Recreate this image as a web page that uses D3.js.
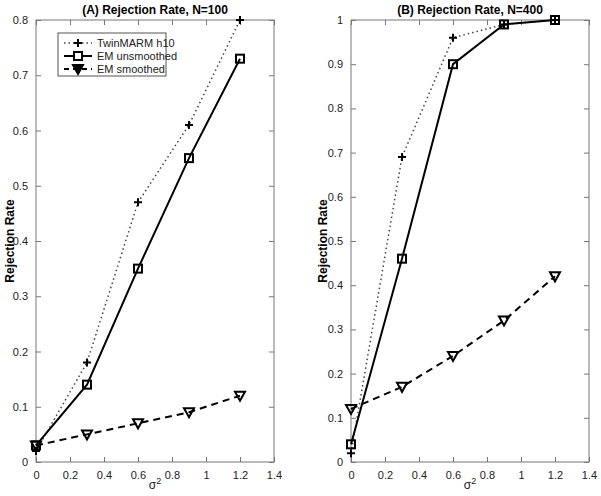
<!DOCTYPE html>
<html>
<head>
<meta charset="utf-8">
<script src="https://cdn.jsdelivr.net/npm/d3@7"></script>
<style>
  body { margin: 0; background: #fff; }
  svg { display: block; font-family: "Liberation Sans", Arial, sans-serif; }
</style>
</head>
<body>
<svg id="chart" width="601" height="496"></svg>
<script>
// sigma^2 values shared by both panels
var sigma2 = [0, 0.3, 0.6, 0.9, 1.2];

// panel A, N=100
var twinA = [0.02, 0.18, 0.47, 0.61, 0.80];
var emUnsA = [0.03, 0.14, 0.35, 0.55, 0.73];
var emSmA = [0.03, 0.05, 0.07, 0.09, 0.12];

// panel B, N=400
var twinB = [0.02, 0.69, 0.96, 0.99, 1.00];
var emUnsB = [0.04, 0.46, 0.90, 0.99, 1.00];
var emSmB = [0.12, 0.17, 0.24, 0.32, 0.42];

var xTicks = [0, 0.2, 0.4, 0.6, 0.8, 1, 1.2, 1.4];
var yTicksA = [0, 0.1, 0.2, 0.3, 0.4, 0.5, 0.6, 0.7, 0.8];
var yTicksB = [0, 0.1, 0.2, 0.3, 0.4, 0.5, 0.6, 0.7, 0.8, 0.9, 1];

var seriesNames = ['TwinMARM h10', 'EM unsmoothed', 'EM smoothed'];

var svg = d3.select('#chart');

var styles = [
	{ dash: '1.5,3', width: 1.5, color: '#444', marker: 'plus' },
	{ dash: null, width: 2, color: '#000', marker: 'square' },
	{ dash: '7,5', width: 2, color: '#000', marker: 'tri' }
];

function drawMarker(g, type, x, y, filled) {
	if (type == 'plus') {
		g.append('path')
			.attr('d', 'M' + (x - 4) + ',' + y + 'H' + (x + 4) + 'M' + x + ',' + (y - 4) + 'V' + (y + 4))
			.attr('stroke', '#000').attr('stroke-width', 2).attr('fill', 'none');
	} else if (type == 'square') {
		g.append('rect')
			.attr('x', x - 4).attr('y', y - 4).attr('width', 8).attr('height', 8)
			.attr('stroke', '#000').attr('stroke-width', 2).attr('fill', filled ? '#fff' : 'none');
	} else {
		g.append('path')
			.attr('d', 'M' + (x - 5) + ',' + (y - 4) + 'L' + (x + 5) + ',' + (y - 4) + 'L' + x + ',' + (y + 5) + 'Z')
			.attr('stroke', '#000').attr('stroke-width', 2).attr('fill', filled ? '#000' : 'none')
			.attr('stroke-linejoin', 'miter');
	}
}

function panel(opts) {
	var x = d3.scaleLinear().domain([0, 1.4]).range([opts.left, opts.right]);
	var y = d3.scaleLinear().domain([0, opts.yMax]).range([462, 20]);
	var g = svg.append('g');

	// box
	g.append('rect')
		.attr('x', opts.left).attr('y', 20)
		.attr('width', opts.right - opts.left).attr('height', 442)
		.attr('fill', 'none').attr('stroke', '#777').attr('stroke-width', 1);

	// axes with inward ticks, on all four sides
	var axB = g.append('g').attr('transform', 'translate(0,462)')
		.call(d3.axisBottom(x).tickValues(xTicks).tickSizeInner(-5).tickSizeOuter(0).tickPadding(9)
			.tickFormat(function(d) { return d3.format('')(+d.toFixed(1)); }));
	var axT = g.append('g').attr('transform', 'translate(0,20)')
		.call(d3.axisTop(x).tickValues(xTicks).tickSizeInner(-5).tickSizeOuter(0).tickFormat(''));
	var axL = g.append('g').attr('transform', 'translate(' + opts.left + ',0)')
		.call(d3.axisLeft(y).tickValues(opts.yTicks).tickSizeInner(-5).tickSizeOuter(0).tickPadding(8)
			.tickFormat(function(d) { return d3.format('')(+d.toFixed(1)); }));
	var axR = g.append('g').attr('transform', 'translate(' + opts.right + ',0)')
		.call(d3.axisRight(y).tickValues(opts.yTicks).tickSizeInner(-5).tickSizeOuter(0).tickFormat(''));
	[axB, axT, axL, axR].forEach(function(a) {
		a.select('.domain').remove();
		a.selectAll('line').attr('stroke', '#777');
		a.selectAll('text').attr('fill', '#222').attr('font-size', 11);
	});

	// title
	g.append('text')
		.attr('x', (opts.left + opts.right) / 2).attr('y', 14)
		.attr('text-anchor', 'middle').attr('font-size', 12).attr('font-weight', 'bold')
		.text(opts.title);

	// y label
	g.append('text')
		.attr('transform', 'translate(' + opts.yLabelX + ',241) rotate(-90)')
		.attr('text-anchor', 'middle').attr('font-size', 12).attr('font-weight', 'bold')
		.text('Rejection Rate');

	// x label
	var xl = g.append('text')
		.attr('x', (opts.left + opts.right) / 2).attr('y', 489)
		.attr('text-anchor', 'middle').attr('font-size', 12).attr('fill', '#222');
	xl.append('tspan').text('σ');
	xl.append('tspan').attr('dy', -5).attr('font-size', 9).text('2');

	var line = d3.line()
		.x(function(d) { return x(d[0]); })
		.y(function(d) { return y(d[1]); });

	opts.series.forEach(function(vals, k) {
		var st = styles[k];
		var pts = sigma2.map(function(s, i) { return [s, vals[i]]; });
		g.append('path')
			.datum(pts)
			.attr('d', line)
			.attr('fill', 'none')
			.attr('stroke', st.color)
			.attr('stroke-width', st.width)
			.attr('stroke-dasharray', st.dash);
		pts.forEach(function(p) {
			drawMarker(g, st.marker, x(p[0]), y(p[1]), false);
		});
	});

	if (opts.legend) {
		var lg = g.append('g');
		lg.append('rect')
			.attr('x', 58).attr('y', 33).attr('width', 108).attr('height', 43)
			.attr('fill', '#fff').attr('stroke', '#555').attr('stroke-width', 1);
		seriesNames.forEach(function(name, k) {
			var st = styles[k];
			var yy = 43 + k * 13;
			lg.append('line')
				.attr('x1', 64).attr('x2', 92).attr('y1', yy).attr('y2', yy)
				.attr('stroke', st.color).attr('stroke-width', st.width)
				.attr('stroke-dasharray', k == 2 ? '5,4' : st.dash);
			drawMarker(lg, st.marker, 78, yy, true);
			lg.append('text')
				.attr('x', 97).attr('y', yy + 4)
				.attr('font-size', 11).attr('fill', '#222')
				.text(name);
		});
	}
}

panel({
	left: 36, right: 274, yMax: 0.8, yTicks: yTicksA,
	title: '(A) Rejection Rate, N=100', yLabelX: 14,
	series: [twinA, emUnsA, emSmA], legend: true
});

panel({
	left: 351, right: 589, yMax: 1, yTicks: yTicksB,
	title: '(B) Rejection Rate, N=400', yLabelX: 327,
	series: [twinB, emUnsB, emSmB], legend: false
});
</script>
</body>
</html>
